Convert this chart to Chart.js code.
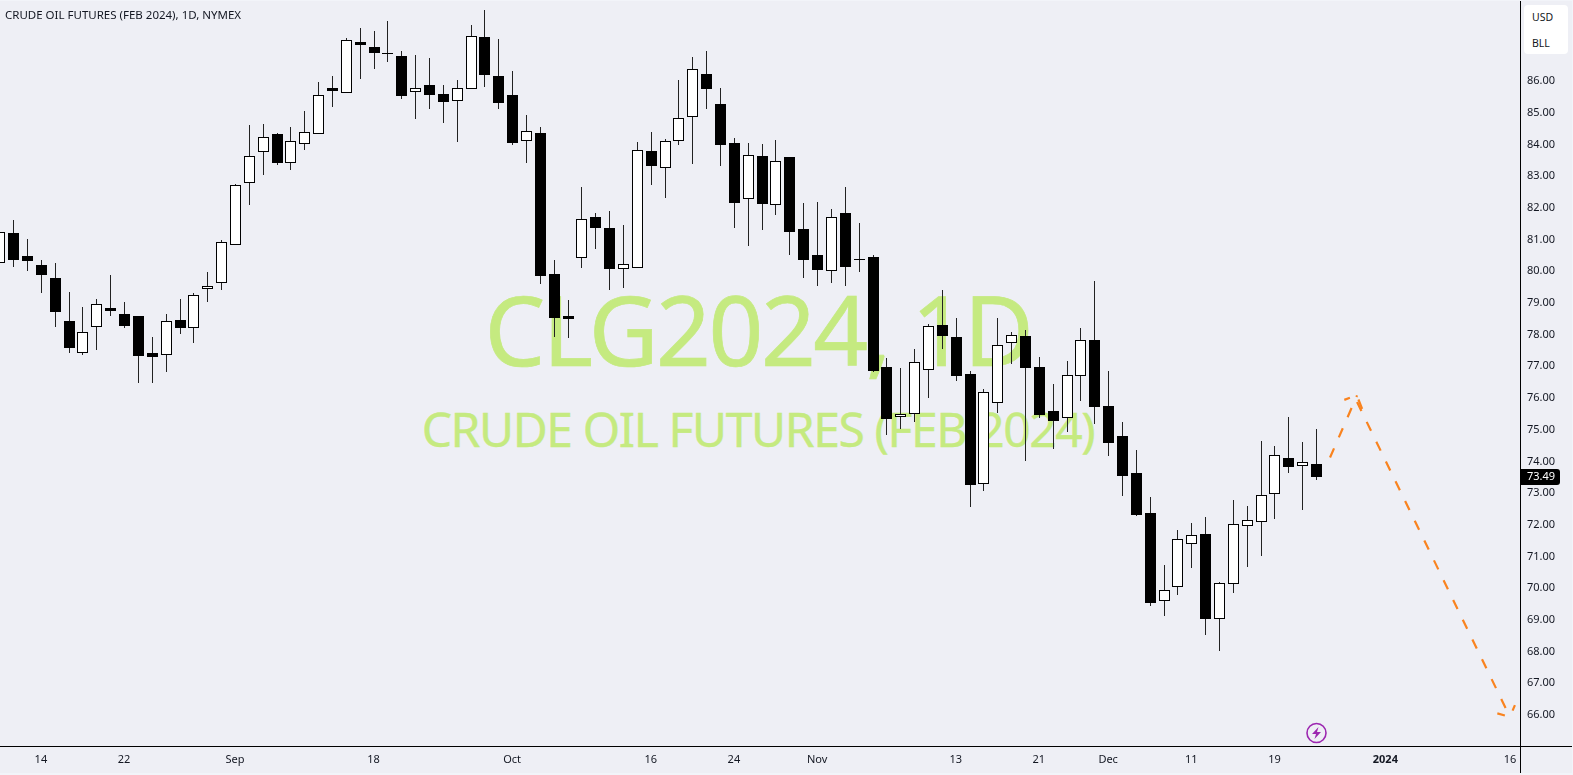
<!DOCTYPE html>
<html>
<head>
<meta charset="utf-8">
<title>CRUDE OIL FUTURES (FEB 2024)</title>
<script src="https://cdn.jsdelivr.net/npm/chart.js@4/dist/chart.umd.min.js"></script>
<style>
  html, body { margin: 0; padding: 0; width: 1573px; height: 775px; overflow: hidden; background: #f2f4f9; }
  #pane { position: absolute; left: 0; top: 1px; width: 1572px; height: 772px; background: #eeeff5; }
  #chartCanvas { position: absolute; left: 0; top: 0; }
  .wm { position: absolute; left: 0; width: 1520px; text-align: center; color: #c5ea80; font-family: "Noto Sans", sans-serif; white-space: nowrap; }
  #wm1 { left: -2px; top: 263px; font-size: 96px; line-height: 131px; letter-spacing: -2.5px; -webkit-text-stroke: 0.7px #c5ea80; }
  #wm2 { left: -2px; top: 396px; font-size: 48px; line-height: 65px; letter-spacing: -1.4px; -webkit-text-stroke: 0.4px #c5ea80; }
  #title { position: absolute; left: 5px; top: 8px; font: 11.5px/14px "Noto Sans", sans-serif; color: #131722; white-space: nowrap; }
  #unitBox { position: absolute; left: 1524px; top: 5px; width: 44px; height: 49px; background: #fff; border-radius: 4px; font: 10.5px "Noto Sans", sans-serif; color: #131722; }
  #unitBox div { position: absolute; left: 8px; line-height: 14px; }
</style>
</head>
<body>
<div id="pane"></div>
<div class="wm" id="wm1">CLG2024, 1D</div>
<div class="wm" id="wm2">CRUDE OIL FUTURES (FEB 2024)</div>
<canvas id="chartCanvas" width="1573" height="775"></canvas>
<div id="title">CRUDE OIL FUTURES (FEB 2024), 1D, NYMEX</div>
<div id="unitBox"><div style="top:5px">USD</div><div style="top:31px">BLL</div></div>
<script>
// daily candles, index -1 is the one cut off by the left edge
const firstIndex = -1;
const opens = [80.22,81.16,80.44,80.15,79.74,78.39,77.38,78.20,78.81,78.61,78.55,77.38,77.31,78.42,78.17,79.40,79.59,80.78,82.74,83.72,84.29,83.37,83.97,84.29,85.74,85.58,87.20,87.04,86.85,86.75,85.63,85.83,85.56,85.33,85.71,87.35,86.12,85.52,84.07,84.32,79.87,78.56,80.37,81.67,81.32,80.03,80.06,83.75,83.21,84.07,84.82,86.18,85.23,84.00,82.24,83.59,82.05,83.56,81.29,80.47,79.96,81.79,80.35,80.41,76.94,75.38,75.45,76.86,78.26,77.88,76.72,73.24,75.80,77.69,77.91,76.94,75.55,75.33,76.65,77.79,75.71,74.77,73.60,72.33,69.55,70.00,71.35,71.67,68.99,70.09,71.92,72.05,72.93,74.06,73.81,73.90];
const closes = [81.20,80.33,80.30,79.86,78.69,77.56,78.04,78.92,78.71,78.25,77.30,77.27,78.39,78.19,79.21,79.51,80.88,82.68,83.59,84.19,83.39,84.07,84.35,85.52,85.66,87.25,87.12,86.86,86.83,85.51,85.74,85.54,85.32,85.74,87.38,86.17,85.29,84.02,84.38,79.83,78.50,78.47,81.60,81.34,80.05,80.19,83.78,83.30,84.07,84.79,86.34,85.73,83.96,82.13,83.62,82.10,83.43,81.22,80.33,80.01,81.67,80.11,80.33,76.83,75.32,75.45,77.09,78.23,77.93,76.67,73.23,76.15,77.63,77.95,76.92,75.43,75.25,76.68,77.79,75.70,74.56,73.52,72.28,69.51,69.90,71.51,71.64,69.01,70.12,71.98,72.11,72.90,74.16,73.80,73.94,73.49];
const highs = [81.20,81.58,80.98,80.31,80.22,79.31,78.84,79.09,79.85,79.00,78.56,77.89,78.62,79.09,79.27,79.94,80.95,82.72,84.58,84.61,84.33,84.52,85.02,85.94,86.13,87.33,87.64,87.55,87.86,86.91,86.79,86.69,85.84,86.00,87.73,88.21,87.29,86.29,84.90,84.52,80.32,79.06,82.62,81.80,81.87,81.43,84.04,84.36,84.14,86.00,86.73,86.91,85.75,84.17,84.01,83.98,84.11,83.57,82.12,82.15,81.93,82.62,81.49,80.48,77.23,76.92,77.51,78.30,79.37,78.49,76.82,76.25,78.49,78.05,78.11,77.26,76.41,77.13,78.18,79.66,76.82,75.20,74.33,72.85,70.70,71.81,72.03,72.21,70.16,72.75,72.56,74.61,74.45,75.37,74.58,74.99];
const lows = [80.22,80.11,79.99,79.29,78.22,77.40,77.34,77.49,78.57,78.19,76.45,76.45,76.80,78.00,77.71,79.00,79.38,80.78,82.07,83.01,83.33,83.17,83.80,84.29,85.16,85.58,86.04,86.36,86.58,85.41,84.78,85.10,84.65,84.05,85.71,85.79,85.10,83.96,83.39,79.58,77.90,77.87,80.08,80.68,79.38,79.45,80.06,82.70,82.29,83.96,83.36,85.10,83.30,81.34,80.77,81.28,81.75,80.49,79.76,79.51,79.61,79.51,79.95,76.79,74.81,75.00,75.22,75.98,77.52,76.52,72.54,73.05,75.49,77.05,73.99,75.35,74.37,74.91,75.88,75.16,74.14,72.88,72.25,69.42,69.09,69.75,70.61,68.49,67.99,69.82,70.64,70.98,72.15,73.60,72.43,73.38];

// drawn forecast path, x in candle index, y in price
const forecastUpX = [95.01, 96.96];
const forecastUpY = [74.09, 76.05];
const arrowTopX = [96.04, 96.93, 97.39];
const arrowTopY = [75.91, 76.06, 75.56];
const forecastDownX = [96.96, 107.99];
const forecastDownY = [75.84, 65.91];
const arrowBottomX = [108.35, 107.99, 107.08];
const arrowBottomY = [66.28, 65.91, 66.02];

const priceTicks = [66,67,68,69,70,71,72,73,74,75,76,77,78,79,80,81,82,83,84,85,86];
const dateTickIndex = [2,8,16,26,36,46,52,58,68,74,79,85,91,99,108];
const dateTickLabels = ['14','22','Sep','18','Oct','16','24','Nov','13','21','Dec','11','19','2024','16'];

const BLACK = '#000000';
const WICK = '#222222';
const ORANGE = '#f9831f';
const PURPLE = '#9c27b0';
const TEXT = '#131722';
const FONT = '"Noto Sans", sans-serif';

const wickData = highs.map((h, i) => ({ x: firstIndex + i, y: [lows[i], h] }));
const bodyData = opens.map((o, i) => ({ x: firstIndex + i, y: [o, closes[i]] }));
const bodyColors = opens.map((o, i) => closes[i] >= o ? '#ffffff' : BLACK);

function pathData(xs, ys) {
  return xs.map((x, i) => ({ x: x, y: ys[i] }));
}
function dashed(xs, ys, offset) {
  return {
    type: 'line',
    data: pathData(xs, ys),
    borderColor: ORANGE,
    borderWidth: 2.2,
    borderDash: [10, 12],
    borderDashOffset: offset,
    borderCapStyle: 'butt',
    pointRadius: 0,
    tension: 0
  };
}

// TradingView puts candles on whole pixels, so snap the bars after layout
const snapBars = {
  id: 'snapBars',
  afterDatasetsUpdate(chart) {
    chart.getSortedVisibleDatasetMetas().forEach(meta => {
      if (meta.type !== 'bar') return;
      meta.data.forEach(el => {
        el.x = Math.round(el.x) + 0.5;
        el.y = Math.round(el.y);
        el.base = Math.round(el.base);
        if (el.y === el.base) el.base = el.y + 1;
      });
    });
  }
};

// axis lines run past each other, last price tag and the lightning mark
const overlays = {
  id: 'overlays',
  afterDraw(chart) {
    const { ctx, chartArea, scales } = chart;
    ctx.save();
    ctx.strokeStyle = BLACK;
    ctx.lineWidth = 1;
    ctx.beginPath();
    ctx.moveTo(0, chartArea.bottom + 0.5);
    ctx.lineTo(1572, chartArea.bottom + 0.5);
    ctx.moveTo(chartArea.right + 0.5, 1);
    ctx.lineTo(chartArea.right + 0.5, 773);
    ctx.stroke();

    const last = closes[closes.length - 1];
    const tagY = scales.y.getPixelForValue(last);
    ctx.fillStyle = BLACK;
    ctx.beginPath();
    ctx.roundRect(chartArea.right, Math.round(tagY) - 8, 40, 16, [0, 3, 3, 0]);
    ctx.fill();
    ctx.fillStyle = '#ffffff';
    ctx.font = '11px ' + FONT;
    ctx.textBaseline = 'middle';
    ctx.fillText(last.toFixed(2), chartArea.right + 7, Math.round(tagY));

    const bx = Math.round(scales.x.getPixelForValue(firstIndex + opens.length - 1)) + 0.5;
    const by = chartArea.bottom - 13;
    ctx.strokeStyle = PURPLE;
    ctx.lineWidth = 1.6;
    ctx.beginPath();
    ctx.arc(bx, by, 9.5, 0, Math.PI * 2);
    ctx.stroke();
    ctx.fillStyle = PURPLE;
    ctx.beginPath();
    ctx.moveTo(bx + 2, by - 6);
    ctx.lineTo(bx - 4.5, by + 1);
    ctx.lineTo(bx - 0.5, by + 1);
    ctx.lineTo(bx - 2, by + 6);
    ctx.lineTo(bx + 4.5, by - 1);
    ctx.lineTo(bx + 0.5, by - 1);
    ctx.closePath();
    ctx.fill();
    ctx.restore();
  }
};

function clearPadding(s) {
  s.paddingTop = 0;
  s.paddingBottom = 0;
  s.paddingLeft = 0;
  s.paddingRight = 0;
}

new Chart(document.getElementById('chartCanvas').getContext('2d'), {
  type: 'bar',
  data: {
    datasets: [
      {
        data: bodyData,
        backgroundColor: bodyColors,
        borderColor: BLACK,
        borderWidth: 1,
        borderSkipped: false,
        barThickness: 11,
        grouped: false,
        inflateAmount: 0
      },
      {
        data: wickData,
        backgroundColor: WICK,
        borderWidth: 0,
        barThickness: 1,
        grouped: false,
        inflateAmount: 0
      },
      dashed(forecastUpX, forecastUpY, 0),
      dashed(arrowTopX, arrowTopY, 4),
      dashed(forecastDownX, forecastDownY, 0),
      dashed(arrowBottomX, arrowBottomY, 4)
    ]
  },
  options: {
    responsive: false,
    animation: false,
    layout: { padding: 0 },
    plugins: { legend: { display: false }, tooltip: { enabled: false } },
    scales: {
      x: {
        type: 'linear',
        bounds: 'data',
        offset: false,
        min: -0.952,
        max: 108.716,
        grid: { display: false, drawTicks: false },
        border: { display: false },
        afterBuildTicks: s => { s.ticks = dateTickIndex.map(v => ({ value: v })); },
        afterFit: s => { s.height = 29; clearPadding(s); },
        ticks: {
          autoSkip: false,
          maxRotation: 0,
          padding: 7,
          color: TEXT,
          font: ctx => ({
            family: FONT,
            size: 11,
            weight: ctx.tick && ctx.tick.value === 99 ? 'bold' : 'normal'
          }),
          callback: v => dateTickLabels[dateTickIndex.indexOf(v)]
        }
      },
      y: {
        type: 'linear',
        position: 'right',
        bounds: 'data',
        min: 64.99,
        max: 88.524,
        grid: { display: false, drawTicks: false },
        border: { display: false },
        afterBuildTicks: s => { s.ticks = priceTicks.map(v => ({ value: v })); },
        afterFit: s => { s.width = 53; clearPadding(s); },
        ticks: {
          autoSkip: false,
          padding: 7,
          labelOffset: 1,
          color: TEXT,
          font: { family: FONT, size: 11 },
          callback: v => v.toFixed(2)
        }
      }
    }
  },
  plugins: [snapBars, overlays]
});
</script>
</body>
</html>
